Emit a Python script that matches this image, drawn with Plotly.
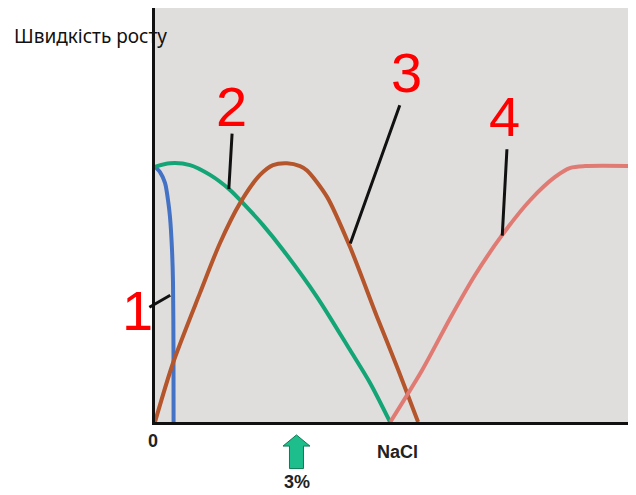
import plotly.graph_objects as go

# --- data (x: NaCl, %; y: relative growth rate) ---
x1 = [0, 0.105, 0.21, 0.273, 0.315, 0.357, 0.378, 0.388, 0.39]
y1 = [0.986, 0.966, 0.924, 0.858, 0.792, 0.665, 0.537, 0.278, 0]

x2 = [0, 0.315, 0.735, 1.155, 1.575, 1.848, 2.268, 2.688, 3.402, 4.095, 4.515, 4.935]
y2 = [0.986, 1.0, 0.993, 0.955, 0.897, 0.846, 0.761, 0.665, 0.483, 0.278, 0.151, 0]

x3 = [0, 0.378, 0.945, 1.365, 1.785, 2.205, 2.478, 2.772, 3.045, 3.192, 3.612, 4.095, 4.662, 5.082, 5.523]
y3 = [0, 0.228, 0.499, 0.692, 0.846, 0.955, 0.993, 1.0, 0.989, 0.972, 0.870, 0.676, 0.406, 0.213, 0]

x4 = [4.94, 5.61, 6.20, 6.72, 7.29, 7.88, 8.40, 8.72, 9.03, 10.1]
y4 = [0, 0.201, 0.402, 0.568, 0.723, 0.858, 0.947, 0.982, 0.989, 0.989]

curve_names = ['1', '2', '3', '4']
curve_colors = ['#4472C4', '#14A577', '#B4552B', '#E07B74']

# label text position, leader start, leader end (on curve)
label_pos = [(-0.36, 0.43), (1.60, 1.22), (5.29, 1.35), (7.33, 1.18)]
leader_from = [(-0.15, 0.44), (1.62, 1.12), (5.15, 1.23), (7.39, 1.06)]
leader_to = [(0.32, 0.49), (1.55, 0.90), (4.10, 0.69), (7.29, 0.72)]

XMAX, YMAX = 9.93, 1.6
marker_x = 2.97  # 3%


def px_(x):
    return x / XMAX


def py_(y):
    return y / YMAX


fig = go.Figure()
for xs, ys, name, col in zip([x1, x2, x3, x4], [y1, y2, y3, y4], curve_names, curve_colors):
    fig.add_trace(go.Scatter(x=xs, y=ys, mode='lines', name=name,
                             line=dict(color=col, width=4, shape='spline', smoothing=0.8),
                             showlegend=False, hoverinfo='skip'))

ann = []
for (lx, ly), (fx, fy), (tx, ty), name in zip(label_pos, leader_from, leader_to, curve_names):
    ann.append(dict(x=px_(lx), y=py_(ly), xref='paper', yref='paper', text=name, showarrow=False,
                    xanchor='center', yanchor='middle',
                    font=dict(family='Liberation Sans, Arial', size=56, color='#FF0000')))
    ann.append(dict(x=tx, y=ty, ax=fx, ay=fy, xref='x', yref='y', axref='x', ayref='y',
                    text='', showarrow=True, arrowhead=0, arrowwidth=3, arrowcolor='#111111',
                    standoff=0, startstandoff=0))


def note(x, y, text, size):
    return dict(x=px_(x), y=py_(y), xref='paper', yref='paper', text=text, showarrow=False,
                xanchor='center', yanchor='middle',
                font=dict(family='Liberation Sans, Arial', size=size, color='#222'))


ann += [
    note(-0.04, -0.073, '<b>0</b>', 18),
    note(5.10, -0.116, '<b>NaCl</b>', 18),
    note(marker_x + 0.02, -0.232, '<b>3%</b>', 18),
    dict(x=px_(-3.0), y=0.932, xref='paper', yref='paper', xanchor='left', yanchor='middle',
         text='Швидкість росту', showarrow=False,
         font=dict(family='Noto Sans', size=19, color='#111')),
]

# green arrow below the axis (paper coords)
hw, sw = 0.283, 0.147
tip, base, bot = -0.050, -0.093, -0.180
path = ('M {},{} L {},{} L {},{} L {},{} L {},{} L {},{} L {},{} Z'.format(
    px_(marker_x), py_(tip),
    px_(marker_x + hw), py_(base),
    px_(marker_x + sw), py_(base),
    px_(marker_x + sw), py_(bot),
    px_(marker_x - sw), py_(bot),
    px_(marker_x - sw), py_(base),
    px_(marker_x - hw), py_(base)))

# the page body keeps an 8px margin, so the figure is 620 px wide inside the window
fig.update_layout(
    width=620, height=487,
    margin=dict(l=147, r=0, t=0, b=73),
    paper_bgcolor='white',
    plot_bgcolor='#E0DEDD',
    xaxis=dict(range=[0, XMAX], showgrid=False, zeroline=False, showticklabels=False,
               ticks='', showline=True, linecolor='#111', linewidth=3),
    yaxis=dict(range=[0, YMAX], showgrid=False, zeroline=False, showticklabels=False,
               ticks='', showline=True, linecolor='#111', linewidth=3),
    annotations=ann,
    shapes=[dict(type='path', path=path, xref='paper', yref='paper',
                 fillcolor='#1DBE8C', line=dict(color='#0E7A55', width=1))],
)

fig.write_html('out.html')
